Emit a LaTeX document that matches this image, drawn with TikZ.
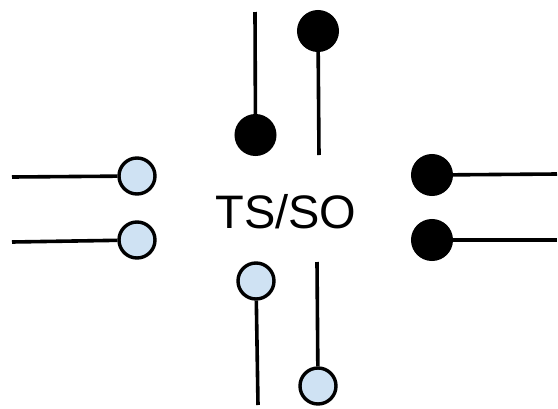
\documentclass[tikz,border=0pt]{standalone}
\usepackage{fontspec}
\setmainfont{Liberation Sans}
\begin{document}
\begin{tikzpicture}[x=1pt,y=-1pt,
  wire/.style={draw=black, line width=3.6pt},
  dark/.style={circle, fill=black, draw=black, line width=3pt, inner sep=0pt, minimum size=39pt},
  light/.style={circle, fill=pinblue, draw=black, line width=3.4pt, inner sep=0pt, minimum size=36pt}]
\definecolor{pinblue}{HTML}{CFE2F3}
\useasboundingbox (0,0) rectangle (558,408);
\node[font=\fontsize{47}{50}\selectfont] (lbl) at (286,212) {TS/SO};
% top
\node[dark] (t1) at (255.5,135) {};
\coordinate (t1e) at (255,12);
\draw[wire] (t1) -- (t1e);
\node[dark] (t2) at (318,31) {};
\coordinate (t2e) at (319,155);
\draw[wire] (t2) -- (t2e);
% left
\node[light] (l1) at (137,176) {};
\coordinate (l1e) at (12,177);
\draw[wire] (l1) -- (l1e);
\node[light] (l2) at (137,240) {};
\coordinate (l2e) at (12,242);
\draw[wire] (l2) -- (l2e);
% right
\node[dark] (r1) at (432,175) {};
\coordinate (r1e) at (557,174);
\draw[wire] (r1) -- (r1e);
\node[dark] (r2) at (432,240) {};
\coordinate (r2e) at (557,240);
\draw[wire] (r2) -- (r2e);
% bottom
\node[light] (b1) at (256,281) {};
\coordinate (b1e) at (258,405);
\draw[wire] (b1) -- (b1e);
\node[light] (b2) at (318,386) {};
\coordinate (b2e) at (317,262);
\draw[wire] (b2) -- (b2e);
\end{tikzpicture}
\end{document}
